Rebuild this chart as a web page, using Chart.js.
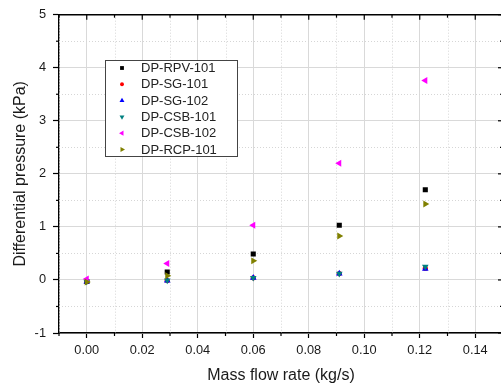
<!DOCTYPE html>
<html>
<head>
<meta charset="utf-8">
<script src="https://cdn.jsdelivr.net/npm/chart.js@4.4.0/dist/chart.umd.min.js"></script>
<style>
  html, body { margin: 0; padding: 0; background: #fff; overflow: hidden; }
  canvas { display: block; }
</style>
</head>
<body>
<canvas id="dpChart" width="501" height="385"></canvas>
<script>
// Data
const flowRate = [0.0, 0.029, 0.06, 0.091, 0.122];
const dpRPV101 = [-0.03, 0.15, 0.49, 1.03, 1.70];
const dpSG101 = [-0.03, -0.01, 0.04, 0.12, 0.22];
const dpSG102 = [-0.03, -0.01, 0.04, 0.12, 0.21];
const dpCSB101 = [-0.03, -0.01, 0.04, 0.12, 0.25];
const dpCSB102 = [0.02, 0.31, 1.03, 2.20, 3.76];
const dpRCP101 = [-0.04, 0.08, 0.36, 0.83, 1.43];

const xTicks = [0, 0.02, 0.04, 0.06, 0.08, 0.10, 0.12, 0.14];
const xMinor = [-0.01, 0.01, 0.03, 0.05, 0.07, 0.09, 0.11, 0.13, 0.15];
const yTicks = [-1, 0, 1, 2, 3, 4, 5];
const yMinor = [-0.5, 0.5, 1.5, 2.5, 3.5, 4.5];

const toPoints = (ys) => ys.map((y, i) => ({ x: flowRate[i], y: y }));

const series = [
  { label: 'DP-RPV-101', data: dpRPV101, color: '#000000', style: 'rect', rot: 0, r: 3.6 },
  { label: 'DP-SG-101', data: dpSG101, color: '#ff0000', style: 'circle', rot: 0, r: 2.6 },
  { label: 'DP-SG-102', data: dpSG102, color: '#0000ff', style: 'triangle', rot: 0, r: 3.8 },
  { label: 'DP-CSB-101', data: dpCSB101, color: '#008080', style: 'triangle', rot: 180, r: 3.8 },
  { label: 'DP-CSB-102', data: dpCSB102, color: '#ff00ff', style: 'triangle', rot: -90, r: 4 },
  { label: 'DP-RCP-101', data: dpRCP101, color: '#808000', style: 'triangle', rot: 90, r: 4 },
];

const font = '"Liberation Sans", Arial, sans-serif';

// the source plot frame runs a couple of pixels past the right edge
const extendRight = {
  id: 'extendRight',
  afterLayout(chart) {
    const x = chart.scales.x;
    const target = chart.width + 2;
    x.width += target - x.right;
    x.right = target;
    x.configure();
    chart.chartArea.right = target;
    chart.chartArea.width = target - chart.chartArea.left;
  },
};

// Minor grid, mirror ticks and frame like the Origin plot
const framePlugin = {
  id: 'frame',
  beforeDatasetsDraw(chart) {
    const { ctx, chartArea: a, scales: { x, y } } = chart;
    ctx.save();
    ctx.strokeStyle = '#d6d6d6';
    ctx.lineWidth = 1;
    ctx.setLineDash([1, 2]);
    xMinor.forEach((v) => {
      const px = Math.round(x.getPixelForValue(v)) + 0.5;
      ctx.beginPath(); ctx.moveTo(px, a.top); ctx.lineTo(px, a.bottom); ctx.stroke();
    });
    yMinor.forEach((v) => {
      const py = Math.round(y.getPixelForValue(v)) + 0.5;
      ctx.beginPath(); ctx.moveTo(a.left, py); ctx.lineTo(a.right, py); ctx.stroke();
    });
    ctx.restore();
  },
  afterDraw(chart) {
    const { ctx, chartArea: a, scales: { x, y } } = chart;
    ctx.save();
    ctx.strokeStyle = '#000';
    ctx.lineWidth = 1.5;
    // top and right frame
    ctx.beginPath();
    ctx.moveTo(a.left, a.top); ctx.lineTo(a.right, a.top); ctx.lineTo(a.right, a.bottom);
    ctx.stroke();
    ctx.lineWidth = 1.2;
    const tick = (x1, y1, x2, y2) => { ctx.beginPath(); ctx.moveTo(x1, y1); ctx.lineTo(x2, y2); ctx.stroke(); };
    xTicks.forEach((v) => {
      const px = x.getPixelForValue(v);
      tick(px, a.top, px, a.top + 5);
    });
    xMinor.forEach((v) => {
      const px = x.getPixelForValue(v);
      tick(px, a.bottom, px, a.bottom + 3);
      tick(px, a.top, px, a.top + 3);
    });
    yTicks.forEach((v) => {
      const py = y.getPixelForValue(v);
      tick(a.right, py, a.right - 5, py);
    });
    yMinor.forEach((v) => {
      const py = y.getPixelForValue(v);
      tick(a.left, py, a.left - 3, py);
      tick(a.right, py, a.right - 3, py);
    });
    ctx.restore();

    // legend box inside the plot
    const bx = 105, by = 60, bw = 132, bh = 96;
    ctx.save();
    ctx.fillStyle = '#fff';
    ctx.fillRect(bx, by, bw, bh);
    ctx.strokeStyle = '#444';
    ctx.lineWidth = 1;
    ctx.strokeRect(bx + 0.5, by + 0.5, bw, bh);
    ctx.font = '13px ' + font;
    ctx.textBaseline = 'middle';
    series.forEach((s, i) => {
      const ry = by + 8 + i * 16.3;
      ctx.fillStyle = s.color;
      ctx.strokeStyle = s.color;
      Chart.helpers.drawPoint(ctx, { pointStyle: s.style, rotation: s.rot, radius: s.r * 0.75, borderWidth: 0 }, bx + 17, ry);
      ctx.fillStyle = '#222';
      ctx.fillText(s.label, bx + 36, ry + 0.5);
    });
    ctx.restore();
  },
};

new Chart(document.getElementById('dpChart'), {
  type: 'scatter',
  data: {
    datasets: series.map((s, i) => ({
      label: s.label,
      data: toPoints(s.data),
      pointStyle: s.style,
      rotation: s.rot,
      pointRadius: s.r,
      pointHoverRadius: s.r,
      backgroundColor: s.color,
      borderColor: s.color,
      borderWidth: 0,
      order: series.length - i,
    })),
  },
  options: {
    responsive: false,
    animation: false,
    layout: { padding: { top: 13, right: 0, left: 0, bottom: 0 } },
    plugins: {
      legend: { display: false },
      tooltip: { enabled: false },
    },
    scales: {
      x: {
        type: 'linear',
        min: -0.01,
        max: 0.15,
        afterBuildTicks: (scale) => { scale.ticks = xTicks.map((v) => ({ value: v })); },
        afterFit: (scale) => { scale.height = 52; scale.paddingLeft = 0; scale.paddingRight = 0; },
        grid: { color: '#d9d9d9', lineWidth: 1, tickColor: '#000', tickLength: 5, tickWidth: 1.2 },
        border: { color: '#000', width: 1.5 },
        ticks: {
          padding: 5,
          color: '#1a1a1a',
          font: { family: font, size: 12.8 },
          callback: (v) => v.toFixed(2),
        },
        title: {
          display: true,
          text: 'Mass flow rate (kg/s)',
          color: '#1a1a1a',
          font: { family: font, size: 16 },
          padding: { top: 0, bottom: 0 },
        },
      },
      y: {
        min: -1,
        max: 5,
        afterBuildTicks: (scale) => { scale.ticks = yTicks.map((v) => ({ value: v })); },
        afterFit: (scale) => { scale.width = 59; },
        grid: { color: '#d9d9d9', lineWidth: 1, tickColor: '#000', tickLength: 6, tickWidth: 1.2 },
        border: { color: '#000', width: 1.5 },
        ticks: {
          padding: 7,
          color: '#1a1a1a',
          font: { family: font, size: 12.8 },
          callback: (v) => String(v),
        },
        title: {
          display: true,
          text: 'Differential pressure (kPa)',
          color: '#1a1a1a',
          font: { family: font, size: 16 },
          padding: { top: 11, bottom: 0 },
        },
      },
    },
  },
  plugins: [extendRight, framePlugin],
});
</script>
</body>
</html>
